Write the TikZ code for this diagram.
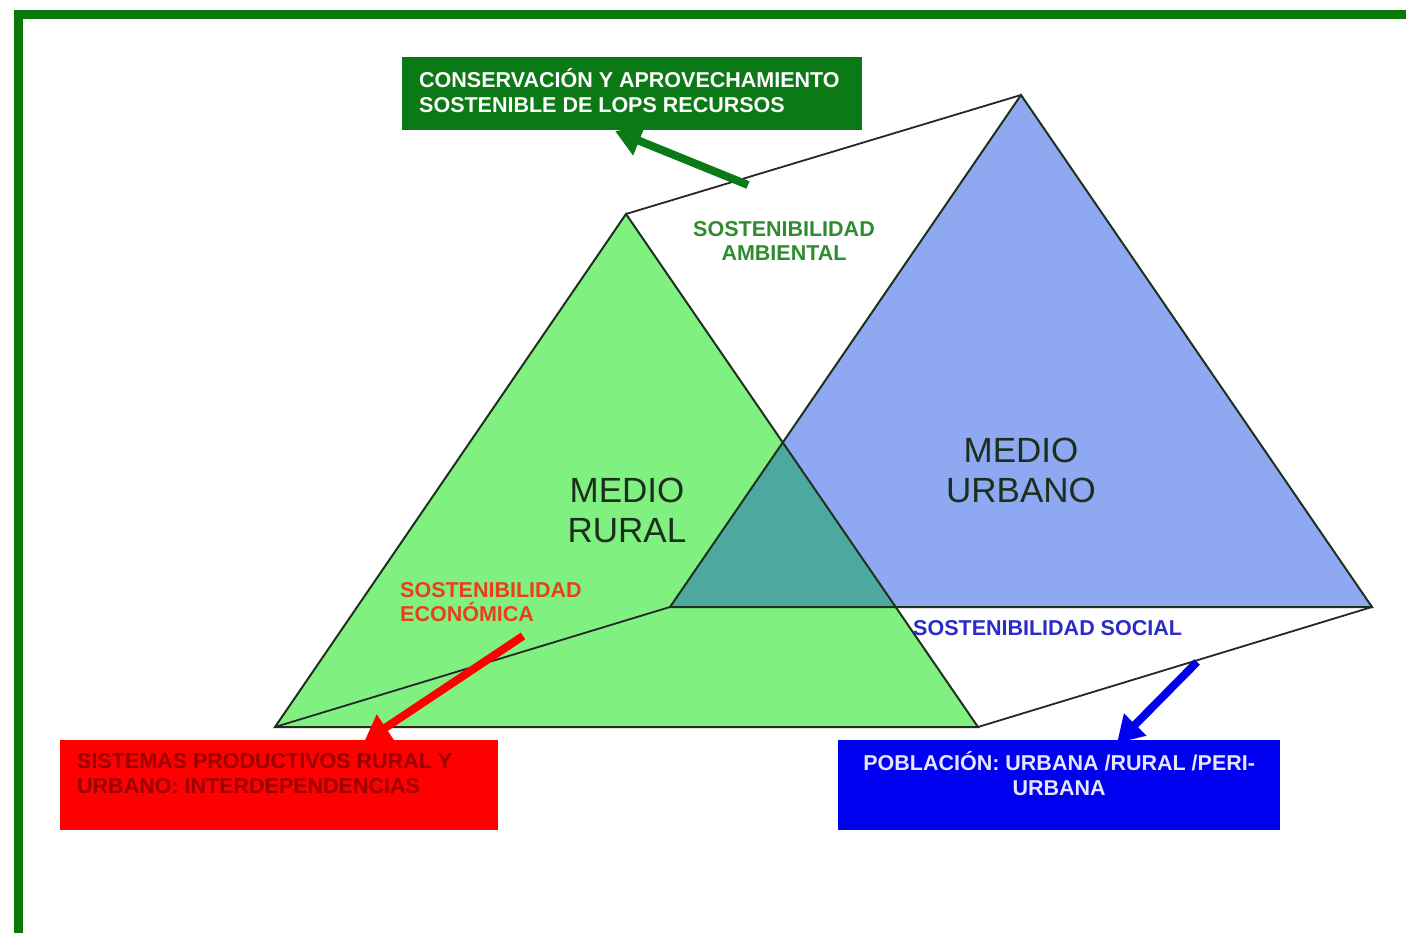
\documentclass[tikz,border=0pt]{standalone}
\usepackage{fontspec}
\setmainfont{Liberation Sans}
\usetikzlibrary{arrows.meta}
\definecolor{frameg}{HTML}{0A780A}
\definecolor{ruralg}{HTML}{80F080}
\definecolor{urbanb}{HTML}{8FA8F2}
\definecolor{overlapc}{HTML}{4DA8A0}
\definecolor{boxg}{HTML}{0B7A16}
\definecolor{boxr}{HTML}{FF0000}
\definecolor{boxb}{HTML}{0000F0}
\definecolor{edgec}{HTML}{1E301E}
\definecolor{ambc}{HTML}{2E8B2E}
\definecolor{econc}{HTML}{E8401A}
\definecolor{socc}{HTML}{2B2BC8}
\definecolor{redtxt}{HTML}{990000}
\definecolor{medioc}{HTML}{1C2E1C}
\tikzset{
  triedge/.style={draw=edgec, line width=2pt, line join=miter},
  prismlink/.style={draw=black!85, line width=1.8pt},
  smalllbl/.style={font=\fontsize{21.5}{24.5}\selectfont\bfseries, inner sep=0pt},
  biglbl/.style={font=\fontsize{35}{40}\selectfont, text=medioc, align=center, inner sep=0pt},
  colbox/.style={minimum width=#1, anchor=north west, inner sep=0pt, minimum height=90pt},
  boxtext/.style={font=\fontsize{21.5}{24.5}\selectfont\bfseries, inner sep=0pt},
  bigarrow/.style={draw=#1, line width=8pt, -{Triangle[length=26pt, width=30pt]}, fill=#1}
}
\begin{document}
\begin{tikzpicture}[x=1pt,y=-1pt]
\useasboundingbox (0,0) rectangle (1406,933);
\clip (0,0) rectangle (1406,933);
% frame
\draw[frameg, line width=9pt] (18.5,15) rectangle (1440,962);
% triangles
\coordinate (ga) at (626,214);
\coordinate (gl) at (275,727);
\coordinate (gr) at (978,727);
\coordinate (ba) at (1021,95);
\coordinate (bl) at (670,607);
\coordinate (br) at (1372,607);
\fill[ruralg] (ga) -- (gl) -- (gr) -- cycle;
\fill[urbanb] (ba) -- (bl) -- (br) -- cycle;
\begin{scope}
  \clip (ga) -- (gl) -- (gr) -- cycle;
  \fill[overlapc] (ba) -- (bl) -- (br) -- cycle;
\end{scope}
\draw[triedge] (ga) -- (gl) -- (gr) -- cycle;
\draw[triedge] (ba) -- (bl) -- (br) -- cycle;
\draw[prismlink] (ga) -- (ba);
\draw[prismlink] (gl) -- (bl);
\draw[prismlink] (gr) -- (br);
% labels
\node[smalllbl, text=ambc, align=center] (amb) at (784,241) {SOSTENIBILIDAD\\AMBIENTAL};
\node[biglbl] (rural) at (627,510) {MEDIO\\RURAL};
\node[biglbl] (urbano) at (1021,470) {MEDIO\\URBANO};
\node[smalllbl, text=econc, align=left, anchor=west] (econ) at (400,602) {SOSTENIBILIDAD\\ECONÓMICA};
\node[smalllbl, text=socc, anchor=west] (soc) at (913,628) {SOSTENIBILIDAD SOCIAL};
% boxes
\node[colbox=460pt, minimum height=73pt, fill=boxg] (gbox) at (402,57) {};
\node[boxtext, text=white, align=left, anchor=west] (gtext) at ([xshift=17pt, yshift=3pt]gbox.west) {CONSERVACIÓN Y APROVECHAMIENTO\\SOSTENIBLE DE LOPS RECURSOS};
\node[colbox=438pt, fill=boxr] (rbox) at (60,740) {};
\node[boxtext, text=redtxt, align=left, anchor=west] (rtext) at ([xshift=17pt, yshift=11.5pt]rbox.west) {SISTEMAS PRODUCTIVOS RURAL Y\\URBANO: INTERDEPENDENCIAS};
\node[colbox=442pt, fill=boxb] (bbox) at (838,740) {};
\node[boxtext, text=blue!10!white, align=center] (btext) at ([yshift=11.5pt]bbox.center) {POBLACIÓN: URBANA /RURAL /PERI-\\URBANA};
% arrows
\coordinate (gs) at (748,185);
\coordinate (gt) at (615,131);
\coordinate (rs) at (523,636);
\coordinate (rt) at (364,742);
\coordinate (bs) at (1197,662);
\coordinate (bt) at (1117,743);
\draw[bigarrow=boxg] (gs) -- (gt);
\draw[bigarrow=boxr] (rs) -- (rt);
\draw[bigarrow=boxb] (bs) -- (bt);
\end{tikzpicture}
\end{document}
